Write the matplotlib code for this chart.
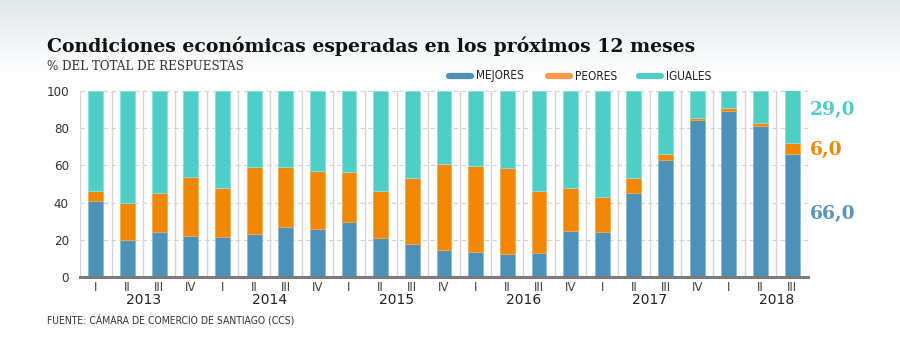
import matplotlib.pyplot as plt
import numpy as np

# === DATA (percent of total answers, by quarter) ===
quarters = ["I", "II", "III", "IV"] * 5 + ["I", "II", "III"]
years = ["2013", "2014", "2015", "2016", "2017", "2018"]
mejores = [41, 20, 24, 22, 21.5, 23, 27, 26, 29.5, 21, 18, 14.5, 13.5, 12.5,
           13, 25, 24, 45, 63, 84.5, 89, 81, 66]
peores = [5, 20, 21, 32, 26.5, 36, 32, 31, 27, 25, 35, 46.5, 46, 46,
          33, 23, 19, 8, 3, 1, 2, 2, 6]
iguales = [54, 60, 55, 46, 52, 41, 41, 43, 43.5, 54, 47, 39, 40.5, 41.5,
           54, 52, 57, 47, 34, 14.5, 9, 17, 29]

# === STYLE ===
c_mej = "#4b91b8"
c_peo = "#f08804"
c_igu = "#4ecec4"
c_peo_leg = "#ff9a4c"
sans = ["DejaVu Sans"]
serif = ["DejaVu Serif"]

fig = plt.figure(figsize=(9, 3.37), dpi=100)
fig.patch.set_facecolor("white")

# soft grey band behind the header
bg = fig.add_axes([0, 1 - 75 / 337, 1, 75 / 337], zorder=-10)
grad = np.linspace(0, 1, 100).reshape(-1, 1)
top = np.array([0.886, 0.906, 0.922])
bottom = np.array([1.0, 1.0, 1.0])
img = top + (bottom - top) * grad[:, :, None]
bg.imshow(img, aspect="auto", extent=[0, 1, 0, 1])
bg.axis("off")

ax = fig.add_axes([80 / 900, 1 - 277 / 337, 728 / 900, 186 / 337])
ax.set_facecolor("none")

x = np.arange(len(mejores))
mej = np.array(mejores)
peo = np.array(peores)
igu = np.array(iguales)
w = 0.47
ax.bar(x, mej, w, color=c_mej, edgecolor="#8bb9d3", linewidth=0.6, zorder=3)
ax.bar(x, peo, w, bottom=mej, color=c_peo, edgecolor="#f5a84a", linewidth=0.6, zorder=3)
ax.bar(x, igu, w, bottom=mej + peo, color=c_igu, edgecolor="#8fe0d9", linewidth=0.6, zorder=3)

ax.set_xlim(-0.5, len(x) - 0.5)
ax.set_ylim(0, 100)

# vertical separators between quarters, dashed horizontal grid
for xs in np.arange(-0.5, len(x) - 0.5, 1.0):
    ax.axvline(xs, color="#d6d6d6", lw=1, zorder=1)
ax.axvline(len(x) - 0.5, color="#cfcfcf", lw=1, ls=(0, (3, 2)), zorder=1)
for yv in [20, 40, 60, 80, 100]:
    ax.axhline(yv, color="#d2d2d2", lw=0.8, ls=(0, (4, 3)), zorder=1, clip_on=False)

for s in ["top", "right", "left"]:
    ax.spines[s].set_visible(False)
ax.spines["bottom"].set_color("#7a7a7a")
ax.spines["bottom"].set_linewidth(2.2)
ax.spines["bottom"].set_zorder(4)

ax.set_yticks([0, 20, 40, 60, 80, 100])
ax.tick_params(axis="y", length=0, pad=8, labelsize=9.5, labelcolor="#333333")
ax.set_xticks(x)
ax.set_xticklabels(quarters, fontsize=9.5, color="#444444", fontstretch="condensed")
ax.tick_params(axis="x", length=0, pad=3)
for lab in ax.get_yticklabels():
    lab.set_fontstretch("condensed")

# year labels, centred between quarters II and III of each year
for i, yr in enumerate(years):
    ax.text(i * 4 + 1.5, -0.088, yr, transform=ax.get_xaxis_transform(),
            ha="center", va="top", fontsize=10, color="#222222", family=sans)

# values of the latest quarter on the right
last = len(x) - 1
ax.annotate(f"{iguales[last]:.1f}".replace(".", ","), (len(x) - 0.5, 100 - igu[last] / 2),
            xytext=(1, 6), textcoords="offset points", ha="left", va="center",
            fontsize=13.5, fontweight="bold", color=c_igu, family=serif, annotation_clip=False)
ax.annotate(f"{peores[last]:.1f}".replace(".", ","), (len(x) - 0.5, mej[last] + peo[last] / 2),
            xytext=(1, -1), textcoords="offset points", ha="left", va="center",
            fontsize=13.5, fontweight="bold", color=c_peo, family=serif, annotation_clip=False)
ax.annotate(f"{mejores[last]:.1f}".replace(".", ","), (len(x) - 0.5, mej[last] / 2),
            xytext=(1, 1), textcoords="offset points", ha="left", va="center",
            fontsize=13.5, fontweight="bold", color="#5595c0", family=serif, annotation_clip=False)

# header
fig.text(47 / 900, 1 - 52 / 337, "Condiciones económicas esperadas en los próximos 12 meses",
         fontsize=13.6, fontweight="bold", color="#111111", family=serif, va="baseline")
fig.text(47 / 900, 1 - 70 / 337, "% DEL TOTAL DE RESPUESTAS",
         fontsize=8.6, color="#333333", family=serif, va="baseline")

# legend
leg_items = [("MEJORES", c_mej, 447), ("PEORES", c_peo_leg, 546), ("IGUALES", c_igu, 637)]
for name, col, px in leg_items:
    fig.lines.append(plt.Line2D([(px + 2) / 900, (px + 24) / 900], [1 - 76 / 337] * 2,
                                transform=fig.transFigure, color=col, lw=4.5,
                                solid_capstyle="round"))
    fig.text((px + 29) / 900, 1 - 76 / 337, name, fontsize=8.5, color="#222222",
             family=sans, fontstretch="condensed", va="center")

fig.text(47 / 900, 1 - 320 / 337, "FUENTE: CÁMARA DE COMERCIO DE SANTIAGO (CCS)",
         fontsize=7.5, color="#333333", family=sans, fontstretch="condensed", va="center")

plt.savefig("out.png", dpi=100)
plt.close()
